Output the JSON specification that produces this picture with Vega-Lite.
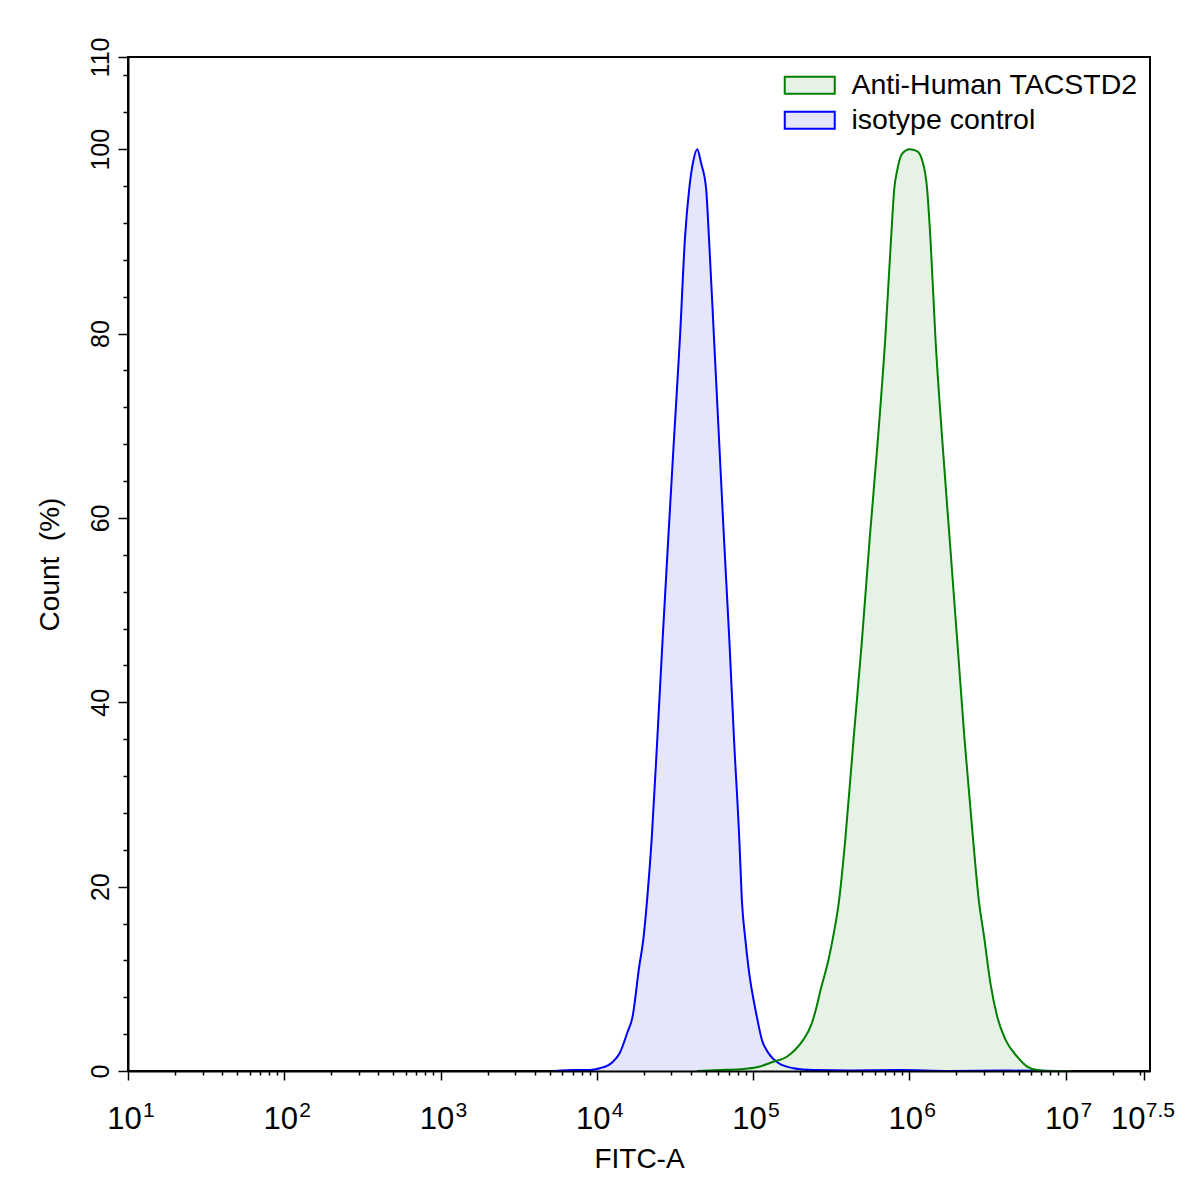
{
  "$schema": "https://vega.github.io/schema/vega-lite/v6.json",
  "width": 1022,
  "height": 1014,
  "autosize": {"type": "none"},
  "padding": {"left": 128, "top": 57, "right": 47, "bottom": 122},
  "background": "white",
  "config": {
    "view": {"stroke": "black", "strokeWidth": 2},
    "font": "Liberation Sans",
    "axis": {"titleFontWeight": "normal", "titleColor": "black", "labelColor": "black", "domainColor": "black", "tickColor": "black", "grid": false, "labelOverlap": false}
  },
  "resolve": {"axis": {"y": "independent"}},
  "datasets": {
    "hist": [
      {"series": "isotype control", "x": 5383, "y": 0},
      {"series": "isotype control", "x": 7228, "y": 0.1},
      {"series": "isotype control", "x": 9016, "y": 0.1},
      {"series": "isotype control", "x": 10447, "y": 0.3},
      {"series": "isotype control", "x": 12417, "y": 0.87},
      {"series": "isotype control", "x": 14028, "y": 1.96},
      {"series": "isotype control", "x": 15631, "y": 4.1},
      {"series": "isotype control", "x": 16943, "y": 5.9},
      {"series": "isotype control", "x": 18664, "y": 11.3},
      {"series": "isotype control", "x": 19815, "y": 14.2},
      {"series": "isotype control", "x": 20989, "y": 18.6},
      {"series": "isotype control", "x": 22439, "y": 25.1},
      {"series": "isotype control", "x": 24378, "y": 36},
      {"series": "isotype control", "x": 26363, "y": 46.8},
      {"series": "isotype control", "x": 28642, "y": 57.7},
      {"series": "isotype control", "x": 31189, "y": 68.6},
      {"series": "isotype control", "x": 34041, "y": 79.5},
      {"series": "isotype control", "x": 36644, "y": 90.3},
      {"series": "isotype control", "x": 39084, "y": 95.8},
      {"series": "isotype control", "x": 41210, "y": 98.5},
      {"series": "isotype control", "x": 43954, "y": 100},
      {"series": "isotype control", "x": 46452, "y": 98.5},
      {"series": "isotype control", "x": 50003, "y": 95.8},
      {"series": "isotype control", "x": 52240, "y": 90.3},
      {"series": "isotype control", "x": 56234, "y": 79.5},
      {"series": "isotype control", "x": 60534, "y": 68.6},
      {"series": "isotype control", "x": 65163, "y": 57.7},
      {"series": "isotype control", "x": 70469, "y": 46.8},
      {"series": "isotype control", "x": 75509, "y": 36},
      {"series": "isotype control", "x": 81658, "y": 25.1},
      {"series": "isotype control", "x": 84723, "y": 18.6},
      {"series": "isotype control", "x": 89331, "y": 14.2},
      {"series": "isotype control", "x": 93325, "y": 11.3},
      {"series": "isotype control", "x": 105680, "y": 5.9},
      {"series": "isotype control", "x": 113760, "y": 3.4},
      {"series": "isotype control", "x": 125310, "y": 1.96},
      {"series": "isotype control", "x": 145210, "y": 0.87},
      {"series": "isotype control", "x": 181130, "y": 0.3},
      {"series": "isotype control", "x": 242660, "y": 0.1},
      {"series": "isotype control", "x": 416870, "y": 0.05},
      {"series": "isotype control", "x": 870960, "y": 0.1},
      {"series": "isotype control", "x": 1819700, "y": 0},
      {"series": "isotype control", "x": 3801900, "y": 0.05},
      {"series": "isotype control", "x": 9332500, "y": 0},
      {"series": "Anti-Human TACSTD2", "x": 43752, "y": 0},
      {"series": "Anti-Human TACSTD2", "x": 61376, "y": 0.1},
      {"series": "Anti-Human TACSTD2", "x": 82604, "y": 0.2},
      {"series": "Anti-Human TACSTD2", "x": 105680, "y": 0.4},
      {"series": "Anti-Human TACSTD2", "x": 134900, "y": 1.0},
      {"series": "Anti-Human TACSTD2", "x": 164440, "y": 1.55},
      {"series": "Anti-Human TACSTD2", "x": 185780, "y": 2.3},
      {"series": "Anti-Human TACSTD2", "x": 209890, "y": 3.4},
      {"series": "Anti-Human TACSTD2", "x": 235500, "y": 5.0},
      {"series": "Anti-Human TACSTD2", "x": 253510, "y": 6.8},
      {"series": "Anti-Human TACSTD2", "x": 268530, "y": 8.6},
      {"series": "Anti-Human TACSTD2", "x": 304090, "y": 12.1},
      {"series": "Anti-Human TACSTD2", "x": 327340, "y": 14.8},
      {"series": "Anti-Human TACSTD2", "x": 355630, "y": 18.6},
      {"series": "Anti-Human TACSTD2", "x": 389050, "y": 25.1},
      {"series": "Anti-Human TACSTD2", "x": 439540, "y": 36},
      {"series": "Anti-Human TACSTD2", "x": 497740, "y": 46.8},
      {"series": "Anti-Human TACSTD2", "x": 557190, "y": 57.7},
      {"series": "Anti-Human TACSTD2", "x": 629510, "y": 68.6},
      {"series": "Anti-Human TACSTD2", "x": 701460, "y": 79.5},
      {"series": "Anti-Human TACSTD2", "x": 763840, "y": 90.3},
      {"series": "Anti-Human TACSTD2", "x": 801680, "y": 95.8},
      {"series": "Anti-Human TACSTD2", "x": 833680, "y": 97.6},
      {"series": "Anti-Human TACSTD2", "x": 897430, "y": 99.5},
      {"series": "Anti-Human TACSTD2", "x": 1004600, "y": 100},
      {"series": "Anti-Human TACSTD2", "x": 1119400, "y": 99.8},
      {"series": "Anti-Human TACSTD2", "x": 1207800, "y": 98.8},
      {"series": "Anti-Human TACSTD2", "x": 1297200, "y": 95.8},
      {"series": "Anti-Human TACSTD2", "x": 1364600, "y": 90.3},
      {"series": "Anti-Human TACSTD2", "x": 1468900, "y": 79.5},
      {"series": "Anti-Human TACSTD2", "x": 1621800, "y": 68.6},
      {"series": "Anti-Human TACSTD2", "x": 1811300, "y": 57.7},
      {"series": "Anti-Human TACSTD2", "x": 2023000, "y": 46.8},
      {"series": "Anti-Human TACSTD2", "x": 2254200, "y": 36},
      {"series": "Anti-Human TACSTD2", "x": 2558600, "y": 25.1},
      {"series": "Anti-Human TACSTD2", "x": 2779700, "y": 18.6},
      {"series": "Anti-Human TACSTD2", "x": 3006100, "y": 14.6},
      {"series": "Anti-Human TACSTD2", "x": 3303700, "y": 9.5},
      {"series": "Anti-Human TACSTD2", "x": 3647500, "y": 5.9},
      {"series": "Anti-Human TACSTD2", "x": 4121000, "y": 3.4},
      {"series": "Anti-Human TACSTD2", "x": 4897800, "y": 1.55},
      {"series": "Anti-Human TACSTD2", "x": 5675400, "y": 0.47},
      {"series": "Anti-Human TACSTD2", "x": 6591700, "y": 0.1},
      {"series": "Anti-Human TACSTD2", "x": 8016800, "y": 0},
      {"series": "Anti-Human TACSTD2", "x": 10765000, "y": 0}
    ],
    "exps": [
      {"x": 10, "e": "1"},
      {"x": 100, "e": "2"},
      {"x": 1000, "e": "3"},
      {"x": 10000, "e": "4"},
      {"x": 100000, "e": "5"},
      {"x": 1000000, "e": "6"},
      {"x": 10000000, "e": "7"},
      {"x": 31622776.6, "e": "7.5"}
    ]
  },
  "layer": [
    {
      "data": {"name": "hist"},
      "mark": {"type": "area", "interpolate": "monotone"},
      "encoding": {
        "x": {
          "field": "x", "type": "quantitative",
          "scale": {"type": "log", "domain": [10, 34673685], "nice": false},
          "axis": {
            "values": [10,20,30,40,50,60,70,80,90,100,200,300,400,500,600,700,800,900,1000,2000,3000,4000,5000,6000,7000,8000,9000,10000,20000,30000,40000,50000,60000,70000,80000,90000,100000,200000,300000,400000,500000,600000,700000,800000,900000,1000000,2000000,3000000,4000000,5000000,6000000,7000000,8000000,9000000,10000000,20000000,30000000,31622776.6],
            "labelExpr": "(abs(log(datum.value)/LN10 - round(log(datum.value)/LN10)) < 0.001 || datum.value > 31000000) ? '10' : ''",
            "tickSize": {"condition": {"test": "abs(log(datum.value)/LN10 - round(log(datum.value)/LN10)) < 0.001 || datum.value > 31000000", "value": 9}, "value": 4},
            "labelOffset": {"condition": {"test": "datum.value > 31000000", "value": -16}, "value": -4},
            "labelFontSize": 31,
            "labelBaseline": "alphabetic",
            "labelAlign": "center",
            "labelPadding": 48,
            "labelFlush": false,
            "labelOverlap": false,
            "labelBound": false,
            "domainWidth": 2,
            "tickWidth": 1.5,
            "title": "FITC-A",
            "titleFontSize": 28,
            "titleX": 511,
            "titleY": 96,
            "titleBaseline": "alphabetic",
            "titleAlign": "center",
            "zindex": 1
          }
        },
        "y": {
          "field": "y", "type": "quantitative",
          "stack": null,
          "scale": {"domain": [0, 110], "nice": false},
          "axis": {
            "orient": "left",
            "values": [0, 20, 40, 60, 80, 100, 110],
            "tickSize": 10,
            "labelAngle": 270,
            "labelAlign": "center",
            "labelBaseline": "alphabetic",
            "labelPadding": 10,
            "labelFontSize": 25,
            "labelFlush": false,
            "labelOverlap": false,
            "labelBound": false,
            "domainWidth": 2,
            "tickWidth": 1.5,
            "title": "Count \u00a0(%)",
            "titleFontSize": 28,
            "titleAngle": 270,
            "titleX": -70,
            "titleY": 507,
            "titleBaseline": "alphabetic",
            "titleAlign": "center",
            "zindex": 1
          }
        },
        "fill": {
          "field": "series", "type": "nominal",
          "scale": {"domain": ["Anti-Human TACSTD2", "isotype control"], "range": ["#e6f2e6", "#e6e6fa"]},
          "legend": {
            "orient": "none",
            "legendX": 667.5,
            "legendY": 14,
            "title": null,
            "symbolType": "M-2,-0.68H2V0.68H-2Z",
            "symbolSize": 625,
            "symbolStrokeWidth": 2,
            "symbolOpacity": 1,
            "labelFontSize": 28.5,
            "labelFont": "Liberation Sans",
            "labelColor": "black",
            "labelOffset": 27.5,
            "labelLimit": 600,
            "rowPadding": 6,
            "padding": 0
          }
        }
      }
    },
    {
      "data": {"name": "hist"},
      "mark": {"type": "line", "interpolate": "monotone", "strokeWidth": 2},
      "encoding": {
        "x": {"field": "x", "type": "quantitative"},
        "y": {
          "field": "y", "type": "quantitative",
          "axis": {
            "orient": "left",
            "values": [4,8,12,16,24,28,32,36,44,48,52,56,64,68,72,76,84,88,92,96,104,108],
            "tickSize": 5,
            "tickWidth": 1.5,
            "labels": false,
            "domain": false,
            "title": null,
            "zindex": 1
          }
        },
        "stroke": {
          "field": "series", "type": "nominal",
          "scale": {"domain": ["Anti-Human TACSTD2", "isotype control"], "range": ["#008000", "#0000ff"]},
          "legend": {
            "orient": "none",
            "legendX": 667.5,
            "legendY": 14,
            "title": null,
            "symbolType": "M-2,-0.68H2V0.68H-2Z",
            "symbolSize": 625,
            "symbolStrokeWidth": 2,
            "symbolOpacity": 1,
            "labelFontSize": 28.5,
            "labelFont": "Liberation Sans",
            "labelColor": "black",
            "labelOffset": 27.5,
            "labelLimit": 600,
            "rowPadding": 6,
            "padding": 0
          }
        }
      }
    },
    {
      "data": {"name": "exps"},
      "transform": [{"filter": "datum.e !== '7.5'"}],
      "mark": {"type": "text", "align": "left", "baseline": "alphabetic", "dx": 15, "dy": 46, "fontSize": 21, "color": "black"},
      "encoding": {
        "x": {"field": "x", "type": "quantitative"},
        "y": {"datum": 0, "type": "quantitative", "axis": null},
        "text": {"field": "e", "type": "nominal"}
      }
    },
    {
      "data": {"name": "exps"},
      "transform": [{"filter": "datum.e === '7.5'"}],
      "mark": {"type": "text", "align": "left", "baseline": "alphabetic", "dx": 2, "dy": 46, "fontSize": 21, "color": "black"},
      "encoding": {
        "x": {"field": "x", "type": "quantitative"},
        "y": {"datum": 0, "type": "quantitative", "axis": null},
        "text": {"field": "e", "type": "nominal"}
      }
    }
  ]
}
